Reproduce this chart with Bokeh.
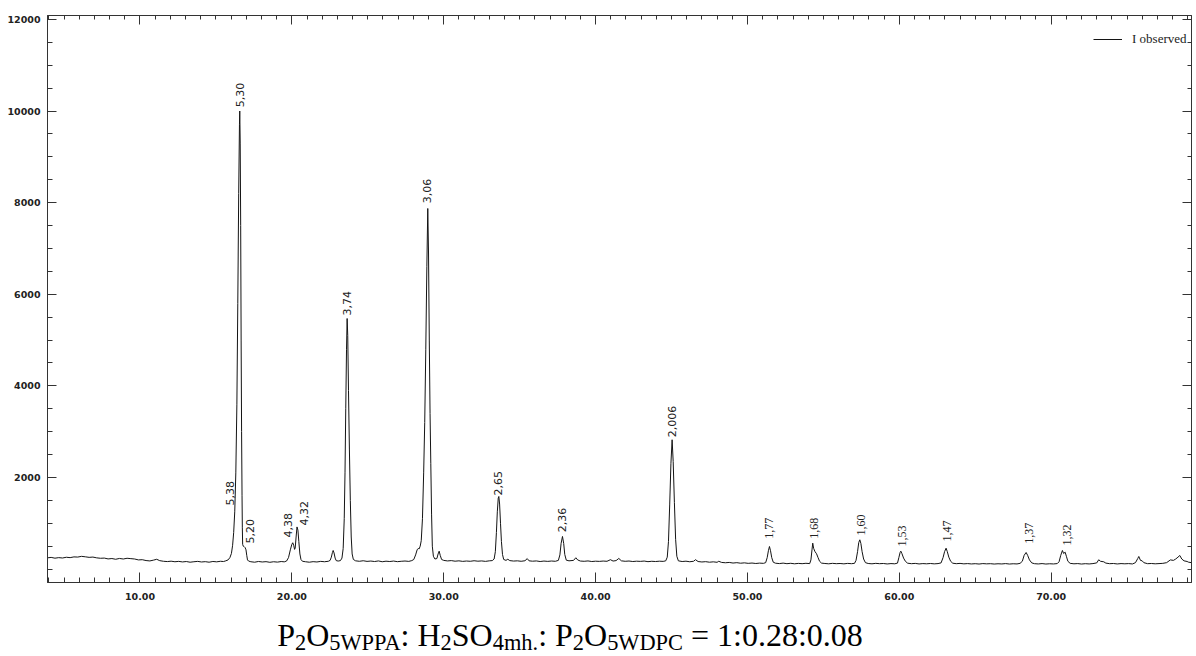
import math
from bokeh.plotting import figure
from bokeh.models import Range1d, FixedTicker, LinearAxis, Legend, LegendItem, Div, PrintfTickFormatter
from bokeh.layouts import column
from bokeh.core.properties import value
from bokeh.embed import file_html
from bokeh.resources import INLINE

# ---- data (2-theta, intensity) ----
two_theta = [
    3.90, 4.15, 4.40, 4.65, 4.90, 5.15, 5.40, 5.65, 5.90, 6.15,
    6.40, 6.65, 6.90, 7.15, 7.40, 7.65, 7.90, 8.15, 8.40, 8.65,
    8.90, 9.15, 9.40, 9.65, 9.90, 10.15, 10.40, 10.65, 10.90, 11.10,
    11.30, 11.55, 11.80, 12.05, 12.30, 12.55, 12.80, 13.05, 13.30, 13.55,
    13.80, 14.05, 14.30, 14.55, 14.80, 15.05, 15.30, 15.50, 15.65, 15.80,
    15.92, 16.02, 16.10, 16.17, 16.24, 16.31, 16.38, 16.44, 16.50, 16.55,
    16.57, 16.60, 16.63, 16.66, 16.69, 16.72, 16.74, 16.76, 16.80, 16.86,
    16.92, 16.98, 17.03, 17.08, 17.15, 17.30, 17.55, 17.80, 18.05, 18.30,
    18.55, 18.80, 19.05, 19.30, 19.50, 19.65, 19.78, 19.90, 20.00, 20.06,
    20.12, 20.18, 20.22, 20.28, 20.34, 20.40, 20.46, 20.53, 20.60, 20.70,
    20.90, 21.15, 21.40, 21.65, 21.90, 22.15, 22.40, 22.52, 22.60, 22.67,
    22.72, 22.78, 22.85, 22.92, 23.05, 23.20, 23.30, 23.38, 23.45, 23.50,
    23.55, 23.60, 23.64, 23.68, 23.73, 23.79, 23.85, 23.91, 23.97, 24.05,
    24.20, 24.45, 24.70, 24.95, 25.20, 25.45, 25.70, 25.95, 26.20, 26.45,
    26.70, 26.95, 27.20, 27.45, 27.70, 27.90, 28.03, 28.15, 28.25, 28.32,
    28.38, 28.45, 28.52, 28.60, 28.68, 28.75, 28.82, 28.89, 28.95, 29.00,
    29.05, 29.10, 29.15, 29.20, 29.25, 29.32, 29.42, 29.55, 29.63, 29.70,
    29.77, 29.86, 30.00, 30.25, 30.50, 30.75, 31.00, 31.25, 31.50, 31.75,
    32.00, 32.25, 32.50, 32.75, 33.00, 33.20, 33.32, 33.40, 33.47, 33.53,
    33.59, 33.63, 33.68, 33.74, 33.80, 33.87, 33.95, 34.10, 34.22, 34.35,
    34.60, 34.85, 35.10, 35.35, 35.50, 35.62, 35.85, 36.10, 36.35, 36.60,
    36.85, 37.10, 37.35, 37.55, 37.65, 37.73, 37.82, 37.90, 37.97, 38.07,
    38.25, 38.55, 38.70, 38.82, 39.00, 39.25, 39.50, 39.75, 40.00, 40.25,
    40.50, 40.75, 40.98, 41.15, 41.35, 41.53, 41.70, 41.95, 42.20, 42.45,
    42.70, 42.95, 43.20, 43.45, 43.70, 43.95, 44.20, 44.45, 44.62, 44.72,
    44.80, 44.88, 44.96, 45.04, 45.11, 45.19, 45.27, 45.35, 45.45, 45.70,
    45.95, 46.20, 46.45, 46.58, 46.75, 47.00, 47.25, 47.50, 47.75, 48.00,
    48.11, 48.30, 48.55, 48.80, 49.05, 49.30, 49.55, 49.80, 50.05, 50.30,
    50.55, 50.80, 51.05, 51.20, 51.30, 51.38, 51.45, 51.52, 51.60, 51.70,
    51.85, 52.10, 52.35, 52.60, 52.85, 53.10, 53.35, 53.60, 53.85, 54.10,
    54.18, 54.25, 54.30, 54.36, 54.45, 54.55, 54.65, 54.75, 54.88, 55.10,
    55.35, 55.60, 55.85, 56.10, 56.35, 56.60, 56.85, 57.05, 57.15, 57.25,
    57.33, 57.40, 57.47, 57.55, 57.65, 57.77, 57.95, 58.20, 58.45, 58.70,
    58.95, 59.20, 59.45, 59.70, 59.88, 59.97, 60.05, 60.10, 60.17, 60.28,
    60.40, 60.55, 60.80, 61.05, 61.30, 61.55, 61.80, 62.05, 62.30, 62.55,
    62.75, 62.88, 62.98, 63.08, 63.16, 63.26, 63.38, 63.52, 63.75, 64.00,
    64.25, 64.50, 64.75, 65.00, 65.25, 65.50, 65.75, 66.00, 66.25, 66.50,
    66.75, 67.00, 67.25, 67.50, 67.75, 67.95, 68.10, 68.22, 68.35, 68.45,
    68.57, 68.72, 68.90, 69.15, 69.40, 69.65, 69.90, 70.15, 70.40, 70.52,
    70.63, 70.74, 70.82, 70.92, 71.00, 71.10, 71.25, 71.50, 71.75, 72.00,
    72.25, 72.50, 72.75, 73.00, 73.13, 73.25, 73.46, 73.60, 73.85, 74.10,
    74.35, 74.60, 74.85, 75.10, 75.35, 75.55, 75.70, 75.77, 75.88, 75.99,
    76.10, 76.35, 76.60, 76.85, 77.10, 77.35, 77.60, 77.85, 78.05, 78.20,
    78.35, 78.47, 78.60, 78.75, 78.95, 79.05, 79.25,
]
intensity = [
    245, 255, 238, 250, 242, 258, 250, 266, 262, 278,
    268, 256, 262, 245, 236, 240, 222, 230, 214, 232,
    220, 236, 228, 220, 200, 205, 186, 178, 196, 214,
    184, 170, 164, 172, 160, 168, 156, 165, 150, 160,
    168, 155, 162, 150, 166, 158, 170, 165, 180, 200,
    250, 340, 520, 800, 1250, 2100, 3600, 5800, 8200, 9700,
    10000, 9300, 7500, 5000, 3000, 1600, 900, 540, 500, 490,
    470, 420, 300, 200, 175, 160, 150, 166, 155, 162,
    148, 160, 152, 165, 158, 175, 250, 420, 540, 575,
    520, 430, 460, 700, 920, 850, 600, 330, 210, 170,
    160, 150, 162, 155, 168, 160, 170, 190, 260, 360,
    406, 350, 240, 185, 175, 185, 240, 450, 1100, 2100,
    3500, 4800, 5470, 5100, 3900, 2600, 1500, 700, 330, 210,
    180, 170, 182, 168, 175, 165, 178, 160, 172, 165,
    175, 162, 170, 176, 168, 185, 210, 310, 420, 450,
    440, 500, 620, 1100, 2100, 3200, 4800, 6600, 7872, 6900,
    5000, 3400, 2300, 1200, 500, 280, 220, 230, 330, 391,
    300, 210, 190, 178, 185, 172, 180, 168, 176, 170,
    182, 172, 178, 168, 180, 185, 220, 380, 800, 1250,
    1550, 1585, 1420, 1000, 600, 320, 210, 190, 215, 185,
    175, 180, 170, 182, 228, 180, 172, 178, 165, 175,
    168, 176, 170, 190, 310, 560, 712, 560, 320, 195,
    180, 190, 247, 200, 175, 170, 178, 165, 172, 168,
    175, 170, 205, 175, 185, 232, 180, 170, 176, 165,
    172, 168, 175, 162, 170, 165, 172, 168, 180, 260,
    600, 1400, 2300, 2823, 2350, 1450, 650, 280, 180, 165,
    172, 160, 170, 205, 165, 155, 162, 150, 158, 148,
    170, 145, 138, 145, 132, 140, 128, 136, 125, 132,
    122, 130, 125, 140, 250, 400, 493, 400, 250, 150,
    128, 120, 130, 118, 126, 115, 124, 118, 126, 120,
    200, 420, 566, 450, 380, 334, 250, 170, 130, 122,
    115, 125, 118, 122, 114, 124, 118, 125, 190, 380,
    580, 639, 560, 380, 220, 140, 122, 115, 125, 118,
    122, 112, 120, 115, 130, 250, 360, 391, 340, 240,
    170, 128, 118, 124, 112, 120, 115, 122, 114, 120,
    135, 250, 380, 456, 380, 260, 170, 128, 118, 124,
    114, 120, 112, 118, 110, 120, 114, 118, 110, 116,
    112, 120, 110, 116, 112, 125, 170, 300, 362, 300,
    200, 135, 118, 112, 120, 110, 116, 112, 120, 160,
    300, 406, 340, 369, 280, 170, 125, 115, 120, 110,
    118, 112, 120, 135, 203, 170, 159, 130, 118, 122,
    112, 120, 115, 120, 112, 140, 230, 275, 190, 181,
    140, 118, 122, 115, 120, 125, 140, 200, 190, 220,
    260, 297, 220, 180, 166, 150, 140,
]
assert len(two_theta) == len(intensity)

# d-spacing labels of the peaks
sans_label_text = ["5,38", "5,30", "5,20", "4,38", "4,32", "3,74", "3,06", "2,65", "2,36", "2,006"]
sans_label_2theta = [15.96, 16.57, 17.23, 19.75, 20.83, 23.66, 28.93, 33.57, 37.80, 45.05]
sans_label_intensity = [1388, 10083, 559, 690, 952, 5536, 7988, 1607, 806, 2879]
serif_label_text = ["1,77", "1,68", "1,60", "1,53", "1,47", "1,37", "1,32"]
serif_label_2theta = [51.45, 54.37, 57.51, 60.17, 63.15, 68.53, 71.01]
serif_label_intensity = [661, 661, 733, 493, 602, 552, 515]

x_ticks = [10, 20, 30, 40, 50, 60, 70]
x_minor_ticks = list(range(4, 80))
y_ticks = [2000, 4000, 6000, 8000, 10000, 12000]
y_minor_ticks = list(range(0, 12001, 500))

legend_text = "I observed"

AX = "#333333"

p = figure(width=1192, height=620, output_backend="svg", toolbar_location=None,
           x_range=Range1d(3.91, 79.24), y_range=Range1d(-293, 12085),
           min_border_left=47, min_border_right=1, min_border_top=15, min_border_bottom=38)
p.grid.visible = False
p.outline_line_color = AX
p.background_fill_color = "white"
p.border_fill_color = "white"


def style_axis(ax, ticks, minor, major_len, minor_len, labels):
    ax.ticker = FixedTicker(ticks=ticks, minor_ticks=minor)
    ax.axis_line_color = AX
    ax.major_tick_line_color = AX
    ax.minor_tick_line_color = AX
    ax.major_tick_in = major_len
    ax.major_tick_out = 0
    ax.minor_tick_in = minor_len
    ax.minor_tick_out = 0
    if labels:
        ax.major_label_text_font = "DejaVu Sans"
        ax.major_label_text_font_size = "9.5px"
        ax.major_label_text_font_style = "bold"
        ax.major_label_text_color = "#222222"
    else:
        ax.major_label_text_font_size = "0px"
        ax.major_label_text_color = None
        ax.major_label_standoff = 0


xb = p.xaxis[0]
style_axis(xb, x_ticks, x_minor_ticks, 10, 5, True)
xb.formatter = PrintfTickFormatter(format="%.2f")
xb.major_label_standoff = 10

yl = p.yaxis[0]
style_axis(yl, y_ticks, y_minor_ticks, 9, 5, True)
yl.major_label_standoff = 7

xt = LinearAxis()
style_axis(xt, x_ticks, x_minor_ticks, 9, 4, False)
p.add_layout(xt, "above")

yr = LinearAxis()
style_axis(yr, y_ticks, y_minor_ticks, 9, 4, False)
p.add_layout(yr, "right")

r = p.line(two_theta, intensity, line_color="#141414", line_width=1)

p.text(x=sans_label_2theta, y=sans_label_intensity, text=sans_label_text,
       angle=math.pi / 2, text_align="left", text_baseline="middle",
       text_font=value("DejaVu Sans"), text_font_size="11px", text_color="#222222")
p.text(x=serif_label_2theta, y=serif_label_intensity, text=serif_label_text,
       angle=math.pi / 2, text_align="left", text_baseline="middle",
       text_font=value("Liberation Serif"), text_font_size="12px", text_color="#222222")

legend = Legend(items=[LegendItem(label=legend_text, renderers=[r])],
                location=(1046, 533), border_line_color=None, background_fill_alpha=0,
                padding=0, margin=0, glyph_width=29, glyph_height=20, label_standoff=10,
                label_text_font="Liberation Serif", label_text_font_size="13px",
                label_text_color="#222222")
p.add_layout(legend)

sub = '<span style="font-size:0.7em;position:relative;top:0.16em">{}</span>'
caption_html = (
    '<div style="width:1130px;font-family:\'Liberation Serif\',serif;font-size:32px;'
    'line-height:21px;text-align:center;color:#000;white-space:nowrap;">'
    'P' + sub.format('2') + 'O' + sub.format('5WPPA') + ': H' + sub.format('2') + 'SO'
    + sub.format('4mh.') + ': P' + sub.format('2') + 'O' + sub.format('5WDPC')
    + ' = 1:0.28:0.08</div>'
)
caption = Div(text=caption_html, width=1130, height=36)

layout = column(p, caption)
open("out.html", "w").write(file_html(layout, INLINE))
